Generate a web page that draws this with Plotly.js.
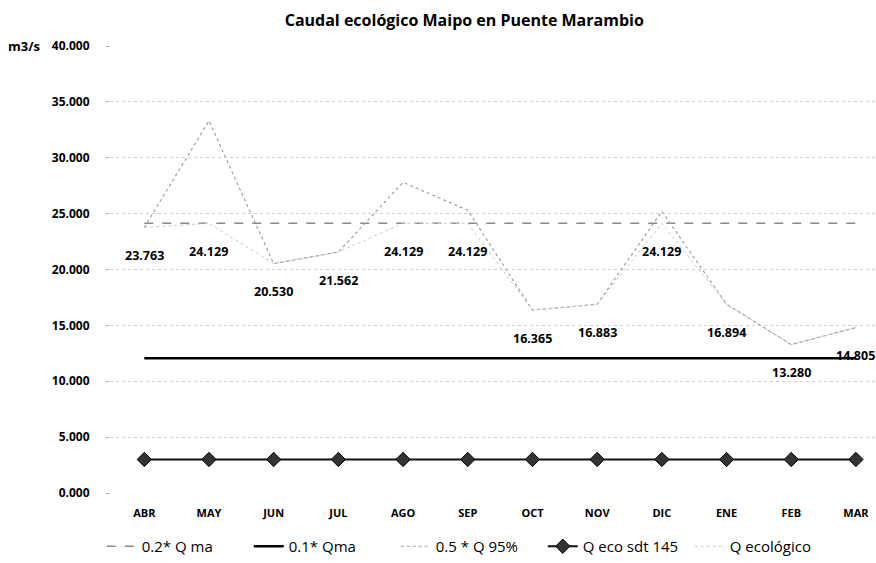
<!DOCTYPE html>
<html>
<head>
<meta charset="utf-8">
<script src="https://cdn.plot.ly/plotly-3.0.1.min.js"></script>
<style>html,body{margin:0;padding:0;background:#fff;}#chart{width:876px;height:563px;}</style>
</head>
<body>
<div id="chart"></div>
<script>
const months = ["ABR","MAY","JUN","JUL","AGO","SEP","OCT","NOV","DIC","ENE","FEB","MAR"];
const qma02 = [24.129,24.129,24.129,24.129,24.129,24.129,24.129,24.129,24.129,24.129,24.129,24.129];
const qma01 = [12.065,12.065,12.065,12.065,12.065,12.065,12.065,12.065,12.065,12.065,12.065,12.065];
const q95half = [23.763,33.300,20.530,21.562,27.800,25.300,16.365,16.883,25.200,16.894,13.280,14.805];
const qecoSdt145 = [3.000,3.000,3.000,3.000,3.000,3.000,3.000,3.000,3.000,3.000,3.000,3.000];
const qEcologico = [23.763,24.129,20.530,21.562,24.129,24.129,16.365,16.883,24.129,16.894,13.280,14.805];

const FONT = "Open Sans, Liberation Sans, sans-serif";

const traces = [
  {x: months, y: qma02, name: "0.2* Q ma", type: "scatter", mode: "lines",
   line: {color: "#8a8a8a", width: 1.5, dash: "dash"}},
  {x: months, y: qma01, name: "0.1* Qma", type: "scatter", mode: "lines",
   line: {color: "#000000", width: 2.5}},
  {x: months, y: q95half, name: "0.5 * Q 95%", type: "scatter", mode: "lines",
   line: {color: "#a0a0a0", width: 1.2, dash: "dot"}},
  {x: months, y: qecoSdt145, name: "Q eco sdt 145", type: "scatter", mode: "lines+markers",
   line: {color: "#111111", width: 2},
   marker: {symbol: "diamond", size: 11, color: "#333333", line: {color: "#000", width: 1}}},
  {x: months, y: qEcologico, name: "Q ecológico", type: "scatter", mode: "lines",
   line: {color: "#c8c8c8", width: 1, dash: "dot"}}
];

const annotations = months.map((m, i) => ({
  x: m, y: qEcologico[i], xref: "x", yref: "y",
  text: qEcologico[i].toFixed(3), showarrow: false, yshift: -28,
  font: {family: FONT, size: 12.5, color: "#000", weight: "bold"}
}));
annotations.push({
  xref: "paper", yref: "paper", x: 0, y: 1, xanchor: "right", yanchor: "middle",
  xshift: -68, text: "<b>m3/s</b>", showarrow: false,
  font: {family: FONT, size: 13, color: "#000"}
});

const layout = {
  width: 876, height: 563,
  margin: {l: 110, r: 0, t: 46, b: 69},
  paper_bgcolor: "#fff", plot_bgcolor: "#fff",
  title: {text: "<b>Caudal ecológico Maipo en Puente Marambio</b>",
          font: {family: FONT, size: 16, color: "#000"},
          x: 0.53, xanchor: "center", y: 0.963, yanchor: "middle"},
  xaxis: {range: [-0.53, 11.31], showgrid: false, zeroline: false, showline: false,
          ticks: "", tickfont: {family: FONT, size: 11, color: "#000", weight: "bold"},
          ticklabelstandoff: 12, fixedrange: true},
  yaxis: {range: [0, 40], dtick: 5, tickformat: ".3f",
          showgrid: true, gridcolor: "#d0d0d0", griddash: "dot", gridwidth: 1,
          zeroline: false, showline: false, ticks: "outside", ticklen: 3, tickcolor: "#aaa",
          ticklabelstandoff: 14,
          tickfont: {family: FONT, size: 12, color: "#000", weight: "bold"}},
  showlegend: true,
  legend: {orientation: "h", x: 0.469, xanchor: "center", y: -0.12, yanchor: "middle",
           font: {family: FONT, size: 15, color: "#000"}, entrywidth: 102, entrywidthmode: "pixels",
           traceorder: "normal"},
  annotations: annotations
};

Plotly.newPlot("chart", traces, layout, {displayModeBar: false, staticPlot: true});
</script>
</body>
</html>
